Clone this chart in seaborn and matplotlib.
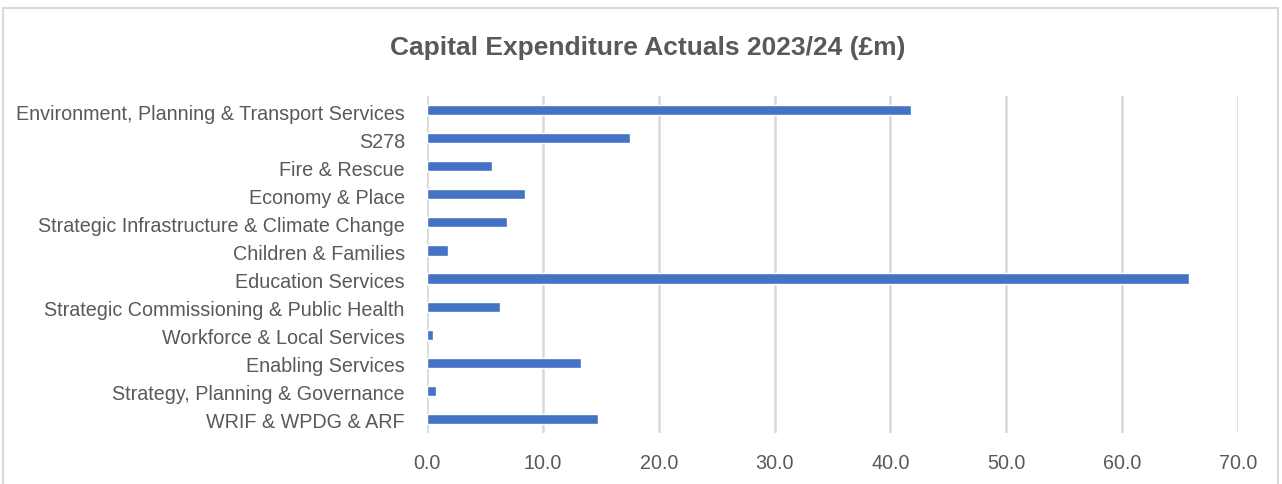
import matplotlib
matplotlib.use("Agg")
import matplotlib.pyplot as plt
import matplotlib.transforms as mtransforms
import seaborn as sns
import pandas as pd
from matplotlib.patches import Rectangle

categories = [
    "Environment, Planning & Transport Services",
    "S278",
    "Fire & Rescue",
    "Economy & Place",
    "Strategic Infrastructure & Climate Change",
    "Children & Families",
    "Education Services",
    "Strategic Commissioning & Public Health",
    "Workforce & Local Services",
    "Enabling Services",
    "Strategy, Planning & Governance",
    "WRIF & WPDG & ARF",
]
values = [41.8, 17.5, 5.6, 8.5, 6.9, 1.8, 65.8, 6.3, 0.5, 13.3, 0.75, 14.8]
xticks = [0, 10, 20, 30, 40, 50, 60, 70]

sns.set_theme(style="white")
plt.rcParams['font.family'] = ['Liberation Sans', 'DejaVu Sans']

df = pd.DataFrame({"cat": categories, "val": values})

W, H = 1282, 484
fig = plt.figure(figsize=(W / 100, H / 100), dpi=100)
ax = fig.add_axes([427 / W, 1 - 433 / H, (1238 - 427) / W, (433 - 96) / H])

sns.barplot(data=df, x="val", y="cat", ax=ax, color="#4472C4", width=0.36,
            saturation=1, orient="h")

ax.set_xlim(0, 70)
ax.set_ylim(11.5, -0.5)
ax.set_xticks(xticks)
ax.set_xticklabels([f"{v:.1f}" for v in xticks])
ax.grid(axis="x", color="#d9d9d9", linewidth=1.8)
ax.set_axisbelow(True)
for s in ax.spines.values():
    s.set_visible(False)
ax.set_xlabel("")
ax.set_ylabel("")
ax.tick_params(axis="both", length=0, labelsize=14.2, labelcolor="#595959")
ax.tick_params(axis="x", pad=15)
ax.tick_params(axis="y", pad=16)
ax.set_yticks(range(len(categories)))
ax.set_yticklabels(categories, va="center")
offset = mtransforms.ScaledTranslation(0, -4 / 100, fig.dpi_scale_trans)
for lbl in ax.get_yticklabels():
    lbl.set_transform(lbl.get_transform() + offset)

fig.text(648 / W, 1 - 48 / H, "Capital Expenditure Actuals 2023/24 (£m)",
         ha="center", va="center", fontsize=19, fontweight="bold", color="#595959")

fig.patches.append(Rectangle((3 / W, -0.1), (1278 - 3) / W, 1 - 8 / H + 0.1,
                             transform=fig.transFigure, fill=False,
                             edgecolor="#d9d9d9", linewidth=1.5))

fig.savefig("out.png", dpi=100)
